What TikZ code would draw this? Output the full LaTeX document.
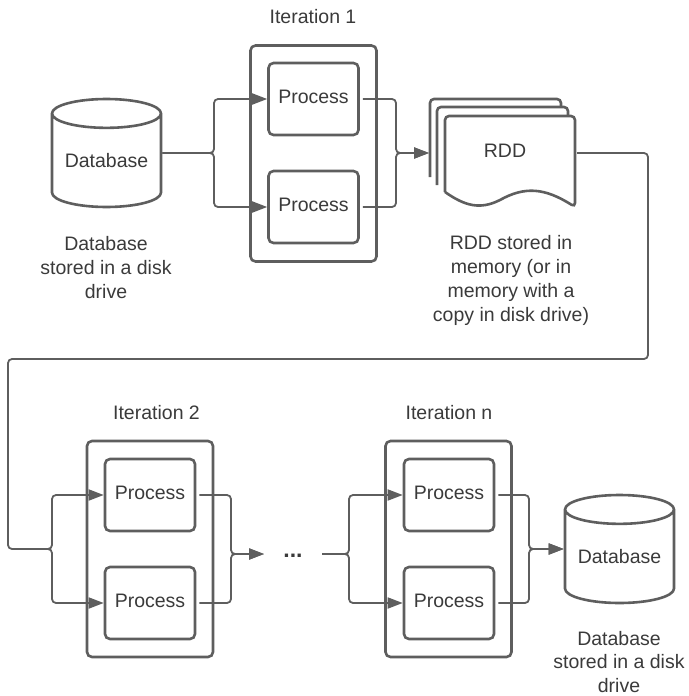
\documentclass[tikz,border=0pt]{standalone}
\usepackage{fontspec}
\setmainfont{Liberation Sans}
\usetikzlibrary{arrows.meta,shapes.geometric}
\definecolor{linegray}{HTML}{5E5E5E}
\definecolor{textgray}{HTML}{3A3A3A}
\tikzset{
  frame/.style={draw=linegray,line width=2.6pt,rounded corners=5pt,minimum width=126pt,minimum height=216pt},
  process/.style={draw=linegray,line width=2.6pt,rounded corners=5pt,fill=white,minimum width=90pt,minimum height=72pt,text depth=4pt},
  database/.style={cylinder,shape border rotate=90,aspect=0.32,draw=linegray,line width=2.6pt,fill=white,minimum width=109pt,minimum height=108pt,anchor=shape center,text depth=6pt},
  sheet/.style={draw=linegray,line width=2.6pt,fill=white,rounded corners=4pt},
  link/.style={draw=linegray,line width=1.8pt,rounded corners=4pt},
  arrow/.style={link,-{Triangle[length=15pt,width=11pt]}},
  caption/.style={align=center,inner sep=0pt},
}
\begin{document}
\begin{tikzpicture}[x=1pt,y=-1pt,text=textgray,font=\fontsize{19.5}{24}\selectfont]
\useasboundingbox (0,0) rectangle (688,696);
% first row
\node[database] (db1) at (106.5,153) {Database};
\node[caption] (db1text) at (106,268) {Database\\stored in a disk\\drive};
\node (iter1) at (313,17) {Iteration 1};
\node[frame] (frame1) at (313.5,153.5) {};
\node[process] (p11) at (313.5,99) {Process};
\node[process] (p12) at (313.5,207) {Process};
% stacked sheets
\draw[sheet] (430,177) -- (430,99) -- (561,99) -- (561,125);
\draw[sheet] (437,185) -- (437,107) -- (568,107) -- (568,130);
\draw[sheet] (445,192) -- (445,116) -- (575,116) -- (575,207) [sharp corners] .. controls (545,188) and (525,186) .. (500,200) .. controls (480,210) and (465,206) .. (445,192);
\node (rdd) at (505,151) {RDD};
\node[caption] (rddtext) at (511,280) {RDD stored in\\memory (or in\\memory with a\\copy in disk drive)};
\coordinate (rddin) at (429,153);
\coordinate (rddout) at (577,153);
\coordinate (split1) at (214,153);
\coordinate (join1) at (396,153);
\draw[arrow] (db1.east |- split1) -- (split1) |- (p11.west);
\draw[arrow] (db1.east |- split1) -- (split1) |- (p12.west);
\draw[arrow,shorten <=3pt] (p11.east) -| (join1) -- (rddin);
\draw[arrow,shorten <=3pt] (p12.east) -| (join1) -- (rddin);
% second row
\node (iter2) at (156.5,413) {Iteration 2};
\node[frame] (frame2) at (150,549) {};
\node[process] (p21) at (150,495) {Process};
\node[process] (p22) at (150,603) {Process};
\node (itern) at (449,413) {Iteration n};
\node[frame] (framen) at (448.5,549) {};
\node[process] (pn1) at (449,495) {Process};
\node[process] (pn2) at (449,603) {Process};
\node[font=\fontsize{23}{24}\selectfont] (dots) at (293,556) {\textbf{...}};
\node[database] (db2) at (619.5,549) {Database};
\node[caption,font=\fontsize{19.5}{23.5}\selectfont] (db2text) at (619,662) {Database\\stored in a disk\\drive};
\coordinate (cornera) at (648,359);
\coordinate (cornerb) at (8,359);
\coordinate (entry) at (30,549);
\coordinate (split2) at (52,549);
\coordinate (join2) at (231,554);
\coordinate (dotsin) at (264,554);
\coordinate (dotsout) at (322,554);
\coordinate (split3) at (349,554);
\coordinate (join3) at (529,549);
\draw[arrow] (rddout) -| (cornera) -- (cornerb) |- (split2) |- (p21.west);
\draw[arrow] (entry) -- (split2) |- (p22.west);
\draw[arrow,shorten <=3pt] (p21.east) -| (join2) -- (dotsin);
\draw[arrow,shorten <=3pt] (p22.east) -| (join2) -- (dotsin);
\draw[arrow] (dotsout) -- (split3) |- (pn1.west);
\draw[arrow] (dotsout) -- (split3) |- (pn2.west);
\draw[arrow,shorten <=3pt] (pn1.east) -| (join3) -- (db2.west |- join3);
\draw[arrow,shorten <=3pt] (pn2.east) -| (join3) -- (db2.west |- join3);
\end{tikzpicture}
\end{document}
